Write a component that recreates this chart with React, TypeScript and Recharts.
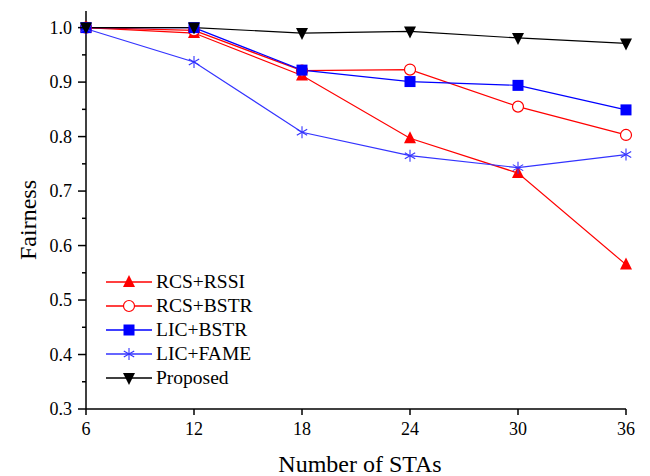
import React from "react";
import { LineChart, Line, XAxis, YAxis } from "recharts";

const STAS = [6, 12, 18, 24, 30, 36];
const RCS_RSSI = [1.0, 0.99, 0.912, 0.797, 0.733, 0.565];
const RCS_BSTR = [1.0, 0.995, 0.921, 0.923, 0.855, 0.803];
const LIC_BSTR = [1.0, 1.0, 0.922, 0.901, 0.894, 0.849];
const LIC_FAME = [0.998, 0.937, 0.808, 0.765, 0.743, 0.767];
const PROPOSED = [1.0, 1.0, 0.99, 0.993, 0.981, 0.971];

const X_TICKS = [6, 12, 18, 24, 30, 36];
const Y_TICKS = [0.3, 0.35, 0.4, 0.45, 0.5, 0.55, 0.6, 0.65, 0.7, 0.75, 0.8, 0.85, 0.9, 0.95, 1.0];

const FONT = "'Times New Roman', 'Liberation Serif', Tinos, 'Noto Serif', 'DejaVu Serif', serif";
const Y_TICK_SIZE = 8;
const Y_TICK_MARGIN = 6;

const chartData = STAS.map((n, i) => ({
  n,
  rssi: RCS_RSSI[i],
  rbstr: RCS_BSTR[i],
  lbstr: LIC_BSTR[i],
  fame: LIC_FAME[i],
  prop: PROPOSED[i],
}));

type Shape = "triUp" | "circle" | "square" | "star" | "triDown";

function Marker({ cx, cy, shape, color }: { cx: number; cy: number; shape: Shape; color: string }) {
  const r = 6;
  switch (shape) {
    case "triUp":
      return <polygon points={`${cx},${cy - r - 1} ${cx - r},${cy + r - 1} ${cx + r},${cy + r - 1}`} fill={color} />;
    case "triDown":
      return <polygon points={`${cx},${cy + r + 1} ${cx - r},${cy - r + 1} ${cx + r},${cy - r + 1}`} fill={color} />;
    case "circle":
      return <circle cx={cx} cy={cy} r={r - 0.5} fill="#fff" stroke={color} strokeWidth={1.2} />;
    case "square":
      return <rect x={cx - r + 0.5} y={cy - r + 0.5} width={2 * r - 1} height={2 * r - 1} fill={color} />;
    case "star": {
      const a = r * 0.866;
      const b = r * 0.5;
      return (
        <g stroke={color} strokeWidth={1.1}>
          <line x1={cx} y1={cy - r} x2={cx} y2={cy + r} />
          <line x1={cx - a} y1={cy - b} x2={cx + a} y2={cy + b} />
          <line x1={cx - a} y1={cy + b} x2={cx + a} y2={cy - b} />
        </g>
      );
    }
  }
  return null;
}

const SERIES: { key: string; name: string; color: string; shape: Shape }[] = [
  { key: "rssi", name: "RCS+RSSI", color: "#ff0000", shape: "triUp" },
  { key: "rbstr", name: "RCS+BSTR", color: "#ff0000", shape: "circle" },
  { key: "lbstr", name: "LIC+BSTR", color: "#0000ff", shape: "square" },
  { key: "fame", name: "LIC+FAME", color: "#3333ff", shape: "star" },
  { key: "prop", name: "Proposed", color: "#000000", shape: "triDown" },
];

// major ticks get a label and a long mark, minor ones only a short mark
const YTick = (props: any) => {
  const { x, y, payload } = props;
  const v = payload.value as number;
  const major = Math.abs(v * 10 - Math.round(v * 10)) < 1e-6;
  const axisX = x + Y_TICK_SIZE + Y_TICK_MARGIN;
  return (
    <g>
      <line x1={axisX - (major ? Y_TICK_SIZE : 4)} y1={y} x2={axisX} y2={y} stroke="#000" strokeWidth={1.5} />
      {major && (
        <text x={x} y={y} dy={6} textAnchor="end" fontFamily={FONT} fontSize={18} fill="#000">
          {v.toFixed(1)}
        </text>
      )}
    </g>
  );
};

const YLabel = (props: any) => {
  const { viewBox } = props;
  const cx = viewBox.x + 36;
  const cy = viewBox.y + viewBox.height / 2 + 10;
  return (
    <text x={cx} y={cy} transform={`rotate(-90 ${cx} ${cy})`} textAnchor="middle" fontFamily={FONT} fontSize={24} fill="#000">
      Fairness
    </text>
  );
};

const LegendBox = () => (
  <div style={{ position: "absolute", left: 106, top: 270, fontFamily: FONT, fontSize: 19.5, color: "#000", lineHeight: 1 }}>
    {SERIES.map((s) => (
      <div key={s.key} style={{ display: "flex", alignItems: "center", height: 24 }}>
        <svg width={46} height={20} style={{ marginRight: 4 }}>
          <line x1={0} y1={10} x2={46} y2={10} stroke={s.color} strokeWidth={1.3} />
          <Marker cx={23} cy={10} shape={s.shape} color={s.color} />
        </svg>
        <span>{s.name}</span>
      </div>
    ))}
  </div>
);

export default function App() {
  return (
    <div style={{ position: "absolute", left: 0, top: 0, width: 650, height: 476, background: "#fff" }}>
      <LineChart width={650} height={476} data={chartData} margin={{ top: 11, right: 24, left: 0, bottom: 0 }}>
        <XAxis
          dataKey="n"
          type="number"
          domain={[6, 36]}
          ticks={X_TICKS}
          height={67}
          axisLine={{ stroke: "#000", strokeWidth: 1.5 }}
          tickLine={{ stroke: "#000", strokeWidth: 1.5 }}
          tickSize={6}
          tickMargin={7}
          tick={{ fontFamily: FONT, fontSize: 18, fill: "#000" }}
          label={{ value: "Number of STAs", position: "insideBottom", offset: 4, fontFamily: FONT, fontSize: 24, fill: "#000", dx: 4 }}
        />
        <XAxis xAxisId="top" orientation="top" dataKey="n" type="number" domain={[6, 36]} height={0} tick={false} tickLine={false} axisLine={{ stroke: "#000", strokeWidth: 1.5 }} />
        <YAxis
          type="number"
          domain={[0.3, 1.0305]}
          ticks={Y_TICKS}
          width={86}
          allowDataOverflow
          axisLine={{ stroke: "#000", strokeWidth: 1.5 }}
          tickLine={false}
          tickSize={Y_TICK_SIZE}
          tickMargin={Y_TICK_MARGIN}
          tick={<YTick />}
          label={<YLabel />}
        />
        <YAxis yAxisId="right" orientation="right" width={0} domain={[0.3, 1.0305]} tick={false} tickLine={false} axisLine={{ stroke: "#000", strokeWidth: 1.5 }} />
        {SERIES.map((s) => (
          <Line
            key={s.key}
            dataKey={s.key}
            name={s.name}
            stroke={s.color}
            strokeWidth={1.2}
            isAnimationActive={false}
            dot={(p: any) => <Marker key={`${s.key}-${p.index}`} cx={p.cx} cy={p.cy} shape={s.shape} color={s.color} />}
            activeDot={false}
          />
        ))}
      </LineChart>
      <LegendBox />
    </div>
  );
}
